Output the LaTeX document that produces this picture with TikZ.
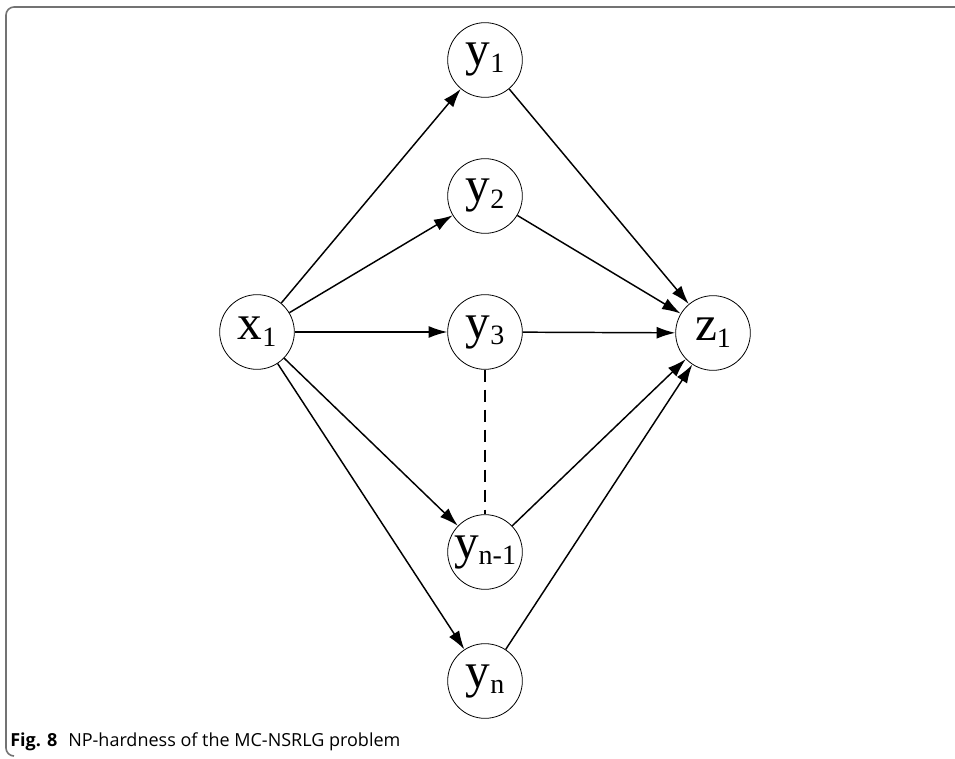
\documentclass[tikz,border=0pt]{standalone}
\usepackage{fontspec}
\setmainfont{Liberation Serif}
\newfontfamily\capfont{Open Sans}
\usetikzlibrary{arrows.meta}

\newcommand{\vlbl}[2]{{\fontsize{37}{37}\selectfont #1\raisebox{-5pt}{\fontsize{21}{21}\selectfont #2}}}

\tikzset{
  vtx/.style={draw, circle, line width=0.6pt, minimum size=56pt, inner sep=0pt},
  arr/.style={line width=1.1pt, -{Latex[length=14pt,width=9pt]}},
  frameline/.style={draw=black!55, line width=1.2pt, rounded corners=6pt}
}

\begin{document}
\begin{tikzpicture}[x=0.75pt,y=0.75pt,yscale=-1,xscale=1]

\useasboundingbox (0,0) rectangle (955,759);

\draw [frameline] (955,7) -- (6,7) -- (6,756) -- (14,756);

\node [vtx] (x1) at (257,332) {\vlbl{x}{1}};
\node [vtx] (y1) at (485,60) {\vlbl{y}{1}};
\node [vtx] (y2) at (485,196) {\vlbl{y}{2}};
\node [vtx] (y3) at (485,332) {\vlbl{y}{3}};
\node [vtx] (yn1) at (485,552) {\vlbl{y}{n-1}};
\node [vtx] (yn) at (485,681) {\vlbl{y}{n}};
\node [vtx] (z1) at (713,333) {\vlbl{z}{1}};

\foreach \t in {y1,y2,y3,yn1,yn} {
  \draw [arr] (x1) -- (\t);
  \draw [arr] (\t) -- (z1);
}
\draw [line width=1pt, dash pattern=on 9pt off 6pt] (y3) -- (yn1);

\node [anchor=base west, inner sep=0pt] (cap) at (10,746)
  {\capfont\fontsize{13.5}{13.5}\selectfont\textbf{Fig. 8}\hspace{0.6em}NP-hardness of the MC-NSRLG problem};

\end{tikzpicture}
\end{document}
